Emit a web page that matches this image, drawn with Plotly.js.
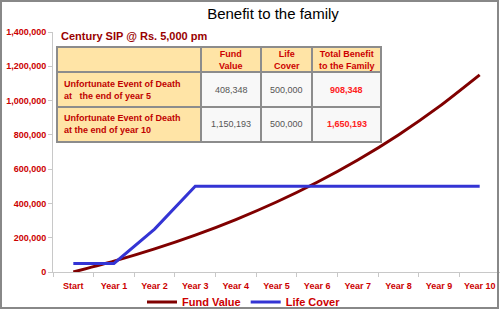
<!DOCTYPE html>
<html><head><meta charset="utf-8">
<script src="https://cdn.plot.ly/plotly-3.0.1.min.js"></script>
<style>html,body{margin:0;padding:0;background:#fff}#c{width:500px;height:310px}</style>
</head><body><div id="c"></div>
<script>
const categories = ['Start','Year 1','Year 2','Year 3','Year 4','Year 5','Year 6','Year 7','Year 8','Year 9','Year 10'];
const fundValue = [0, 63413, 134867, 215384, 306113, 408348, 523550, 653361, 799637, 964463, 1150193];
const lifeCover = [50000, 50000, 250000, 500000, 500000, 500000, 500000, 500000, 500000, 500000, 500000];
const yTicks = [0, 200000, 400000, 600000, 800000, 1000000, 1200000, 1400000];
const tableHeader = ['', 'Fund<br>Value', 'Life<br>Cover', 'Total Benefit<br>to the Family'];
const rowLabels = ['Unfortunate Event of Death<br>at\u00a0\u00a0\u00a0the end of year 5', 'Unfortunate Event of Death<br>at the end of year 10'];
const fundAtDeath = ['408,348', '1,150,193'];
const coverAtDeath = ['500,000', '500,000'];
const totalBenefit = ['908,348', '1,650,193'];

const L = 53, R = 500, T = 32, B = 272;
const px = x => (x - L) / (R - L);
const py = y => (B - y) / (B - T);

const FONT = 'Arial, Liberation Sans';
const tickFont = {family: FONT, size: 9, color: '#CC0000', weight: 'bold'};

const traces = [
  {type: 'scatter', mode: 'lines', name: 'Fund Value', x: categories, y: fundValue,
   line: {color: '#800000', width: 3, shape: 'spline', smoothing: 0.6}},
  {type: 'scatter', mode: 'lines', name: 'Life Cover', x: categories, y: lifeCover,
   line: {color: '#3434D4', width: 3}}
];

// table layout (pixel geometry)
const colX = [57, 201, 261, 312, 381];
const rowY = [47, 72, 107, 142];
const HEAD_FILL = '#FFE4A6', CELL_FILL = '#F8F8F8', GRID = '#8c8c8c';
const columns = [rowLabels, fundAtDeath, coverAtDeath, totalBenefit];
const colColor = ['#C00000', '#555555', '#555555', '#FF2020'];
const colWeight = ['bold', 'normal', 'normal', 'bold'];

const shapes = [];
const annotations = [];
for (let c = 0; c < 4; c++) {
  for (let r = 0; r < 3; r++) {
    const fill = (r === 0 || c === 0) ? HEAD_FILL : CELL_FILL;
    shapes.push({type: 'rect', xref: 'paper', yref: 'paper', layer: 'above',
      x0: px(colX[c]), x1: px(colX[c + 1]), y0: py(rowY[r + 1]), y1: py(rowY[r]),
      fillcolor: fill, line: {color: GRID, width: 2}});
    const txt = r === 0 ? tableHeader[c] : columns[c][r - 1];
    if (!txt) continue;
    const left = (c === 0 && r > 0);
    annotations.push({text: txt, xref: 'paper', yref: 'paper', showarrow: false,
      x: left ? px(colX[c] + 5) : px((colX[c] + colX[c + 1]) / 2),
      xanchor: left ? 'left' : 'center', align: left ? 'left' : 'center',
      y: py((rowY[r] + rowY[r + 1]) / 2), yanchor: 'middle',
      font: {family: FONT, size: 9,
        color: r === 0 ? '#CC0000' : colColor[c],
        weight: r === 0 ? 'bold' : colWeight[c]}});
  }
}
annotations.push({text: 'Century SIP @ Rs. 5,000 pm', xref: 'paper', yref: 'paper', x: px(59), y: py(36),
  xanchor: 'left', yanchor: 'middle', showarrow: false,
  font: {family: FONT, size: 11, color: '#990000', weight: 'bold'}});
shapes.push({type: 'rect', xref: 'paper', yref: 'paper', x0: px(1), x1: px(498), y0: py(308), y1: py(1),
  line: {color: '#888888', width: 2}, fillcolor: 'rgba(0,0,0,0)', layer: 'above'});

const layout = {
  width: 500, height: 310,
  margin: {l: L, r: 500 - R, t: T, b: 310 - B},
  paper_bgcolor: '#fff', plot_bgcolor: '#fff',
  title: {text: 'Benefit to the family', x: 273 / 500, xanchor: 'center', xref: 'container',
          y: 1 - 14 / 310, yanchor: 'middle', yref: 'container',
          font: {family: FONT, size: 15, color: '#000'}},
  xaxis: {type: 'category', range: [-0.5, 10.5], tickson: 'boundaries', ticks: 'outside',
          ticklen: 4, tickcolor: '#c8c8c8', showline: true, linecolor: '#c8c8c8', linewidth: 1,
          ticklabelstandoff: 5,
          showgrid: false, zeroline: false, tickfont: tickFont, fixedrange: true, automargin: false},
  yaxis: {range: [0, 1400000], tickvals: yTicks, tickformat: ',d', ticks: 'outside', ticklen: 4,
          tickcolor: '#c8c8c8', showline: true, linecolor: '#c8c8c8', linewidth: 1,
          showgrid: false, zeroline: false, tickfont: tickFont, fixedrange: true, automargin: false},
  showlegend: true,
  legend: {orientation: 'h', xref: 'container', yref: 'container', x: 244 / 500, xanchor: 'center',
           y: 1 - 302 / 310, yanchor: 'middle',
           font: {family: FONT, size: 11, color: '#CC0000', weight: 'bold'},
           itemwidth: 30, bgcolor: 'rgba(0,0,0,0)'},
  annotations: annotations,
  shapes: shapes
};

Plotly.newPlot('c', traces, layout, {staticPlot: true, displayModeBar: false});
</script>
</body></html>
